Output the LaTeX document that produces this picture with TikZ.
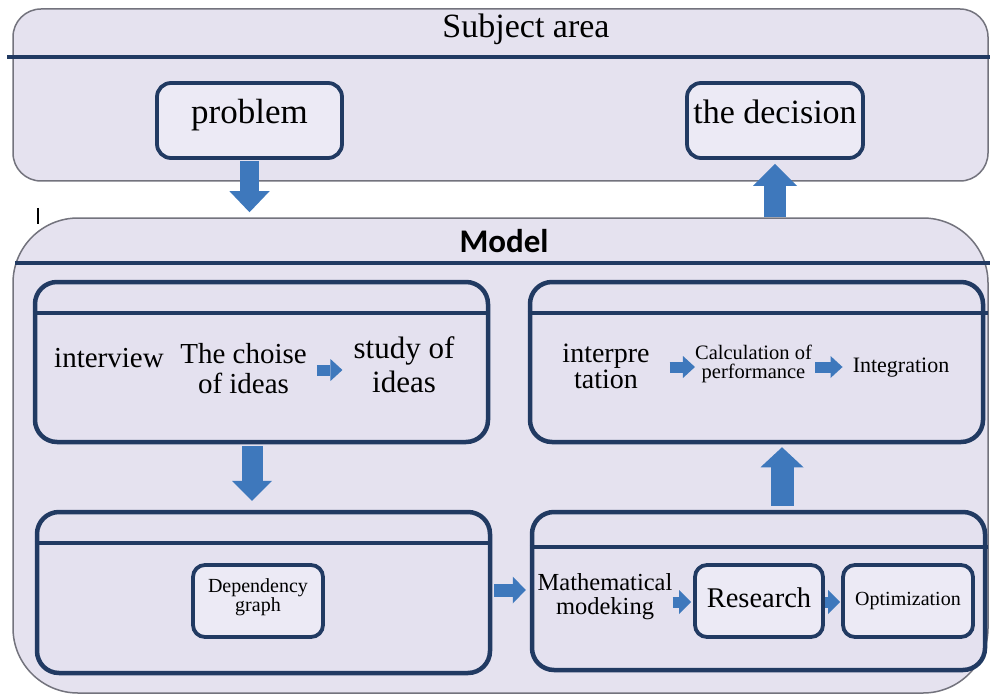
\documentclass[tikz,border=0pt]{standalone}
\usepackage{fontspec}
\setmainfont{Liberation Serif}
\newfontfamily\modelfont{Carlito}
\usetikzlibrary{arrows.meta}
\definecolor{lav}{RGB}{229,226,239}
\definecolor{lavin}{RGB}{228,225,239}
\definecolor{lavsm}{RGB}{236,234,245}
\definecolor{dblue}{RGB}{33,58,98}
\definecolor{ablue}{RGB}{62,120,188}
\definecolor{ogray}{RGB}{115,115,125}
\newcommand\mytwo[2]{\vtop{\lineskiplimit=-100pt\lineskip=0pt\halign{\hfil##\hfil\cr#1\cr#2\cr}}}
\tikzset{
  outerbox/.style={draw=ogray, line width=1.5pt, fill=lav, inner sep=0pt},
  innerbox/.style={draw=dblue, line width=4.5pt, fill=lavin, rounded corners=22pt, inner sep=0pt},
  smallbox/.style={draw=dblue, line width=3.8pt, fill=lavsm, rounded corners=12pt, inner sep=0pt},
  hdr/.style={draw=dblue, line width=3.2pt},
  barrow/.style n args={3}{draw=ablue, line width=#1, -{Triangle[width=#2,length=#3,line width=0pt]}},
  txt/.style={anchor=base, inner sep=0pt}
}
\begin{document}
\begin{tikzpicture}[x=1pt,y=-1pt]
\useasboundingbox[fill=white] (0,0) rectangle (990,695);
% outer boxes
\node[outerbox, rounded corners=28pt, minimum width=975pt, minimum height=172pt] (subject) at (500.5,95) {};
\node[outerbox, rounded corners=65pt, minimum width=975pt, minimum height=475pt] (model) at (500.5,455.5) {};
\draw[hdr] (7,57) -- (990,57);
\draw[hdr] (15,263) -- (990,263);
\draw[line width=2.5pt] (38,208) -- (38,224);
% titles
\node[txt, font=\fontsize{34}{40}\selectfont] (ttl) at (526,38) {Subject area};
\node[txt, font=\modelfont\bfseries\fontsize{33}{40}\selectfont] (mtl) at (504,252) {Model};
% subject boxes
\node[smallbox, rounded corners=14pt, minimum width=185pt, minimum height=75pt] (problem) at (249.5,120.5) {};
\node[smallbox, rounded corners=14pt, minimum width=176pt, minimum height=75pt] (decision) at (775,120.5) {};
\node[txt, font=\fontsize{35}{40}\selectfont] (tproblem) at (249.5,124) {problem};
\node[txt, font=\fontsize{34}{40}\selectfont] (tdecision) at (775,124) {the decision};
% inner boxes
\node[innerbox, minimum width=453pt, minimum height=160pt] (box1) at (261.5,362) {};
\node[innerbox, minimum width=453pt, minimum height=161pt] (box2) at (263.5,592.5) {};
\node[innerbox, minimum width=453pt, minimum height=160pt] (box3) at (756.5,362) {};
\node[innerbox, minimum width=453pt, minimum height=158pt] (box4) at (758.5,591) {};
\draw[hdr] (box1.west |- 0,313) -- (box1.east |- 0,313);
\draw[hdr] (box2.west |- 0,543) -- (box2.east |- 0,543);
\draw[hdr] (box3.west |- 0,313) -- (988,313);
\draw[hdr] (box4.west |- 0,547) -- (988,547);
% small boxes
\node[smallbox, minimum width=130pt, minimum height=72pt] (dep) at (258,601) {};
\node[smallbox, minimum width=128pt, minimum height=72pt] (research) at (759,601) {};
\node[smallbox, minimum width=130pt, minimum height=72pt] (optim) at (908,601) {};
% texts
\node[txt, font=\fontsize{29}{30}\selectfont] (interview) at (109,367) {interview};
\node[txt, font=\fontsize{29}{30}\selectfont] (choise) at (243.5,363) {\mytwo{The choise}{of ideas}};
\node[txt, font=\fontsize{31}{34}\selectfont] (study) at (404,358) {\mytwo{study of}{ideas}};
\node[txt, font=\fontsize{28}{26}\selectfont] (interpre) at (606,362) {\mytwo{interpre}{tation}};
\node[txt, font=\fontsize{20.5}{19.5}\selectfont] (calc) at (753.5,359) {\mytwo{Calculation of}{performance}};
\node[txt, font=\fontsize{22}{26}\selectfont] (integ) at (901,372) {Integration};
\node[txt, font=\fontsize{20}{19.5}\selectfont] (tdep) at (258,592) {\mytwo{Dependency}{graph}};
\node[txt, font=\fontsize{24.5}{24}\selectfont] (math) at (605,590) {\mytwo{Mathematical}{modeking}};
\node[txt, font=\fontsize{28.5}{30}\selectfont] (tresearch) at (759,607) {Research};
\node[txt, font=\fontsize{20}{24}\selectfont] (toptim) at (908,605) {Optimization};
% big arrows
\coordinate (ax1) at (252,0);
\coordinate (ax2) at (782,0);
\draw[barrow={19pt}{40pt}{21pt}, shorten >=5pt, shorten <=1pt] (problem.south) -- (problem.south |- model.north);
\draw[barrow={22pt}{44pt}{22pt}, shorten >=4pt] (decision.south |- model.north) -- (decision.south);
\draw[barrow={21pt}{40pt}{20pt}, shorten >=9pt, shorten <=2pt] (box1.south -| ax1) -- (box2.north -| ax1);
\draw[barrow={23pt}{43pt}{20pt}, shorten >=3pt, shorten <=4pt] (box4.north -| ax2) -- (box3.south -| ax2);
\draw[barrow={13pt}{27pt}{13pt}, shorten >=4pt, shorten <=2pt] (box2.east |- 0,590) -- (box4.west |- 0,590);
% small arrows
\draw[barrow={11pt}{22pt}{12pt}, shorten <=10pt, shorten >=11pt] (choise.east |- 0,370) -- (study.west |- 0,370);
\draw[barrow={11pt}{22pt}{12pt}, shorten <=20pt] (interpre.east |- 0,367) -- (calc.west |- 0,367);
\draw[barrow={11pt}{22pt}{12pt}, shorten <=3pt, shorten >=10pt] (calc.east |- 0,367) -- (integ.west |- 0,367);
\draw[barrow={11pt}{24pt}{12pt}, shorten >=2pt] (math.east |- 0,602) -- (research.west |- 0,602);
\draw[barrow={11pt}{24pt}{12pt}, shorten >=1pt] (research.east |- 0,602) -- (optim.west |- 0,602);
\end{tikzpicture}
\end{document}
